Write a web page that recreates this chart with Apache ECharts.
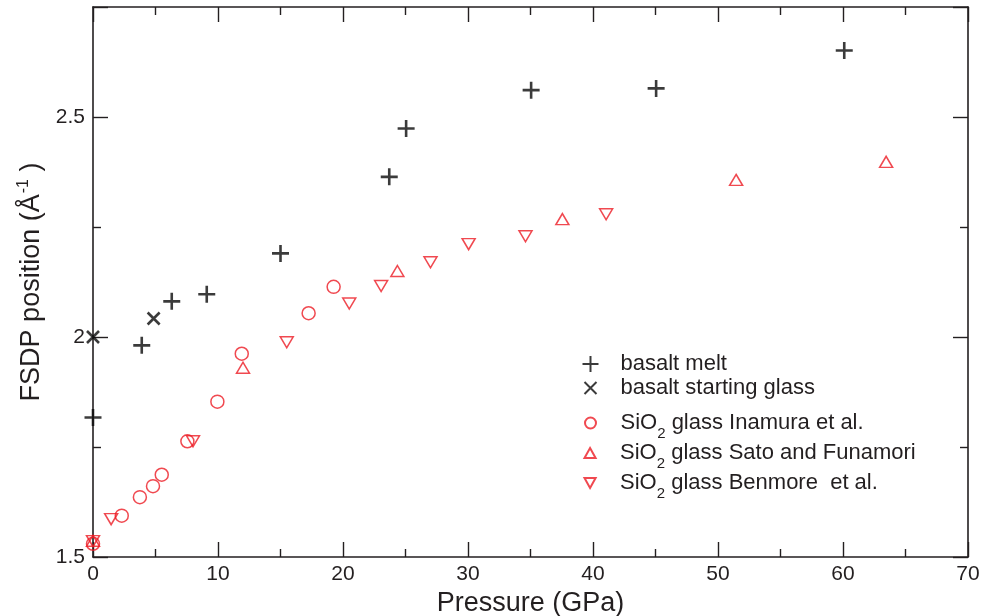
<!DOCTYPE html>
<html>
<head>
<meta charset="utf-8">
<script src="https://cdn.jsdelivr.net/npm/echarts@6/dist/echarts.min.js"></script>
<style>
  html, body { margin: 0; padding: 0; background: #fff; }
  #chart { width: 986px; height: 616px; }
</style>
</head>
<body>
<div id="chart"></div>
<script>
// FSDP position versus pressure
const meltP = [0, 3.9, 6.3, 9.1, 15.0, 23.7, 25.05, 35.05, 45.05, 60.1];
const meltQ = [1.817, 1.981, 2.081, 2.097, 2.190, 2.364, 2.474, 2.561, 2.565, 2.651];

const glassP = [0, 4.85];
const glassQ = [2.000, 2.042];

const inamuraP = [0, 2.3, 3.75, 4.8, 5.5, 7.55, 9.95, 11.9, 17.25, 19.25];
const inamuraQ = [1.530, 1.594, 1.636, 1.661, 1.687, 1.763, 1.853, 1.962, 2.054, 2.114];

const satoP = [0, 12.0, 24.35, 37.55, 51.45, 63.45];
const satoQ = [1.537, 1.930, 2.150, 2.268, 2.357, 2.398];

const benmoreP = [0, 1.45, 8.0, 15.5, 20.5, 23.05, 27.0, 30.05, 34.6, 41.05];
const benmoreQ = [1.536, 1.586, 1.763, 1.988, 2.076, 2.116, 2.170, 2.211, 2.229, 2.279];

const xTicks = { min: 0, max: 70, interval: 10 };
const yTicks = { min: 1.5, max: 2.75, interval: 0.5 };

const names = [
  'basalt melt',
  'basalt starting glass',
  'SiO2 glass Inamura et al.',
  'SiO2 glass Sato and Funamori',
  'SiO2 glass Benmore  et al.'
];

const pairs = (xs, ys) => xs.map((x, i) => [x, ys[i]]);

const INK = '#231f20';
const MARK = '#0a0a0a';
const RED = '#ec1c24';
const FONT = 'Liberation Sans, Arial, sans-serif';

const PLUS = 'path://M0,-1V1M-1,0H1';
const CROSS = 'path://M-1,-1L1,1M-1,1L1,-1';
const UP = 'path://M0,-1L1,0.8L-1,0.8Z';
const DOWN = 'path://M0,1L1,-0.8L-1,-0.8Z';

const chart = echarts.init(document.getElementById('chart'), null, { renderer: 'canvas' });

const axisCommon = {
  axisLine: { show: true, onZero: false, lineStyle: { color: INK, width: 1.6 } },
  axisTick: { show: true, inside: true, length: 15, lineStyle: { color: INK, width: 1.4 } },
  minorTick: { show: true, splitNumber: 2, length: 8, lineStyle: { color: INK, width: 1.4 } },
  splitLine: { show: false },
  minorSplitLine: { show: false }
};

function legendFor(name, top, iconW, iconH) {
  return {
    data: [name],
    left: 580 + (16 - iconW) / 2,
    top: top,
    orient: 'vertical',
    padding: 0,
    itemWidth: iconW,
    itemHeight: iconH,
    selectedMode: false,
    textStyle: {
      color: INK,
      fontFamily: FONT,
      fontSize: 22,
      padding: [0, 0, 0, 17 + (16 - iconW) / 2],
      rich: {
        n: { fontSize: 22, fontFamily: FONT, color: INK, lineHeight: 24 },
        s: { fontSize: 15, fontFamily: FONT, color: INK, lineHeight: 36, verticalAlign: 'bottom' }
      }
    },
    formatter: function (n) {
      if (n.indexOf('SiO2') === 0) {
        return '{n|SiO}{s|2}{n|' + n.slice(4) + '}';
      }
      return n;
    }
  };
}

const option = {
  backgroundColor: '#ffffff',
  animation: false,
  grid: { left: 93, right: 18, top: 7, bottom: 59, containLabel: false, outerBoundsMode: 'none' },
  xAxis: [
    Object.assign({}, axisCommon, {
      type: 'value',
      position: 'bottom',
      min: xTicks.min, max: xTicks.max, interval: xTicks.interval,
      name: 'Pressure (GPa)',
      nameLocation: 'middle',
      nameGap: 27,
      nameTextStyle: { color: INK, fontFamily: FONT, fontSize: 27 },
      axisLabel: { color: INK, fontFamily: FONT, fontSize: 21, margin: 7 }
    }),
    Object.assign({}, axisCommon, {
      type: 'value',
      position: 'top',
      min: xTicks.min, max: xTicks.max, interval: xTicks.interval,
      axisLabel: { show: false }
    })
  ],
  yAxis: [
    Object.assign({}, axisCommon, {
      type: 'value',
      position: 'left',
      min: yTicks.min, max: yTicks.max, interval: yTicks.interval,
      name: '{t|FSDP position (Å}{p|-1}{t| )}',
      nameLocation: 'middle',
      nameRotate: 90,
      nameGap: 43,
      nameTextStyle: {
        rich: {
          t: { fontSize: 27, fontFamily: FONT, color: INK, lineHeight: 32 },
          p: { fontSize: 16, fontFamily: FONT, color: INK, lineHeight: 32, verticalAlign: 'top', padding: [0, 0, 0, 1] }
        }
      },
      axisLabel: {
        color: INK, fontFamily: FONT, fontSize: 21, margin: 8,
        showMaxLabel: false,
        formatter: v => (Math.abs(v - Math.round(v)) < 1e-9 ? String(Math.round(v)) : String(v))
      }
    }),
    Object.assign({}, axisCommon, {
      type: 'value',
      position: 'right',
      min: yTicks.min, max: yTicks.max, interval: yTicks.interval,
      axisLabel: { show: false }
    })
  ],
  legend: [
    legendFor(names[0], 353, 16, 16),
    legendFor(names[1], 377, 12, 12),
    legendFor(names[2], 412, 11, 11),
    legendFor(names[3], 442, 12, 10),
    legendFor(names[4], 472, 12, 10)
  ],
  series: [
    {
      name: names[0], type: 'scatter', data: pairs(meltP, meltQ),
      symbol: PLUS, symbolSize: 17,
      itemStyle: { color: 'none', borderColor: MARK, borderWidth: 2.6 }
    },
    {
      name: names[1], type: 'scatter', data: pairs(glassP, glassQ),
      symbol: CROSS, symbolSize: 12,
      itemStyle: { color: 'none', borderColor: MARK, borderWidth: 2.6 }
    },
    {
      name: names[2], type: 'scatter', data: pairs(inamuraP, inamuraQ),
      symbol: 'circle', symbolSize: 13,
      itemStyle: { color: 'none', borderColor: RED, borderWidth: 1.5 }
    },
    {
      name: names[3], type: 'scatter', data: pairs(satoP, satoQ),
      symbol: UP, symbolSize: [13, 11],
      itemStyle: { color: 'none', borderColor: RED, borderWidth: 1.5 }
    },
    {
      name: names[4], type: 'scatter', data: pairs(benmoreP, benmoreQ),
      symbol: DOWN, symbolSize: [13, 11],
      itemStyle: { color: 'none', borderColor: RED, borderWidth: 1.5 }
    }
  ]
};

chart.setOption(option);
</script>
</body>
</html>
